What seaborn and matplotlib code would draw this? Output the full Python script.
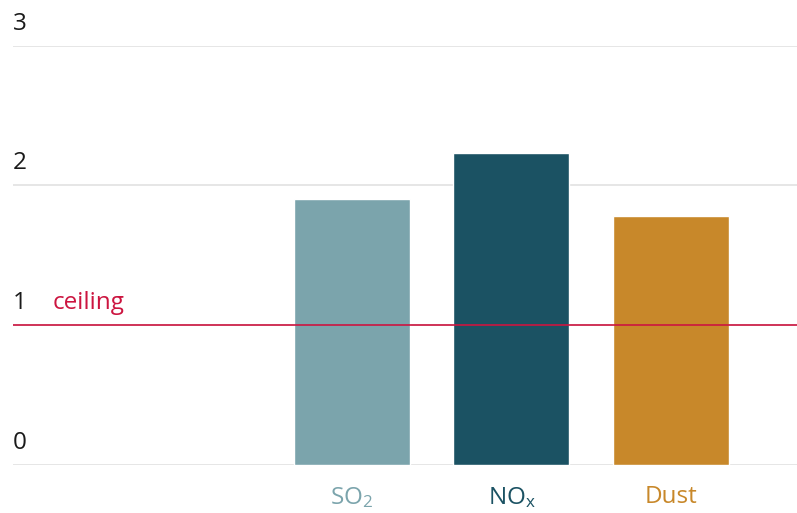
import matplotlib
matplotlib.use("Agg")
import matplotlib.pyplot as plt
import matplotlib.transforms as mtransforms
import seaborn as sns
import pandas as pd

# data
pollutants = ["SO2", "NOx", "Dust"]
pollutant_labels = [r"$\mathregular{SO_2}$", r"$\mathregular{NO_x}$", "Dust"]
values = [1.9, 2.23, 1.78]
colors = ["#7BA4AC", "#1B5263", "#C8882A"]
y_ticks = [0, 1, 2, 3]
ceiling = 1.0

sns.set_style("white")
plt.rcParams["font.family"] = ["Open Sans", "DejaVu Sans"]
plt.rcParams["mathtext.fontset"] = "custom"
plt.rcParams["mathtext.rm"] = "Open Sans"

df = pd.DataFrame({"pollutant": pollutants, "value": values})

fig = plt.figure(figsize=(7.97, 5.13), dpi=100)
ax = fig.add_axes([13 / 797, 1 - 464.5 / 513, 1 - 13 / 797, (464.5 - 45.5) / 513])

sns.barplot(data=df, x="pollutant", y="value", hue="pollutant",
            palette=colors, width=0.727, legend=False, ax=ax, saturation=1)

ax.set_xlim(-2.125, 2.79)
ax.set_ylim(0, 3)

# gridlines
for t in y_ticks:
    ax.axhline(t, color="#E2E2E2", lw=1.2, zorder=0)

# ceiling line
ax.axhline(ceiling, color="#CC1540", lw=1.2, zorder=3)
trans = mtransforms.blended_transform_factory(ax.transAxes, ax.transData)
ax.text(40 / 784, ceiling + 0.07, "ceiling", color="#CC1540", fontsize=17.5,
        transform=trans, va="bottom", ha="left")

# y labels above gridlines
for t in y_ticks:
    ax.text(0, t + 0.07, str(t), color="#1a1a1a", fontsize=17.5,
            transform=trans, va="bottom", ha="left")

ax.set_yticks([])
ax.set_xticks(range(len(pollutants)))
ax.set_xticklabels(pollutant_labels, fontsize=17.5)
for lbl, c in zip(ax.get_xticklabels(), colors):
    lbl.set_color(c)
ax.tick_params(axis="x", length=0, pad=15)
ax.set_xlabel("")
ax.set_ylabel("")
sns.despine(ax=ax, left=True, bottom=True, top=True, right=True)

fig.savefig("out.png", dpi=100)
